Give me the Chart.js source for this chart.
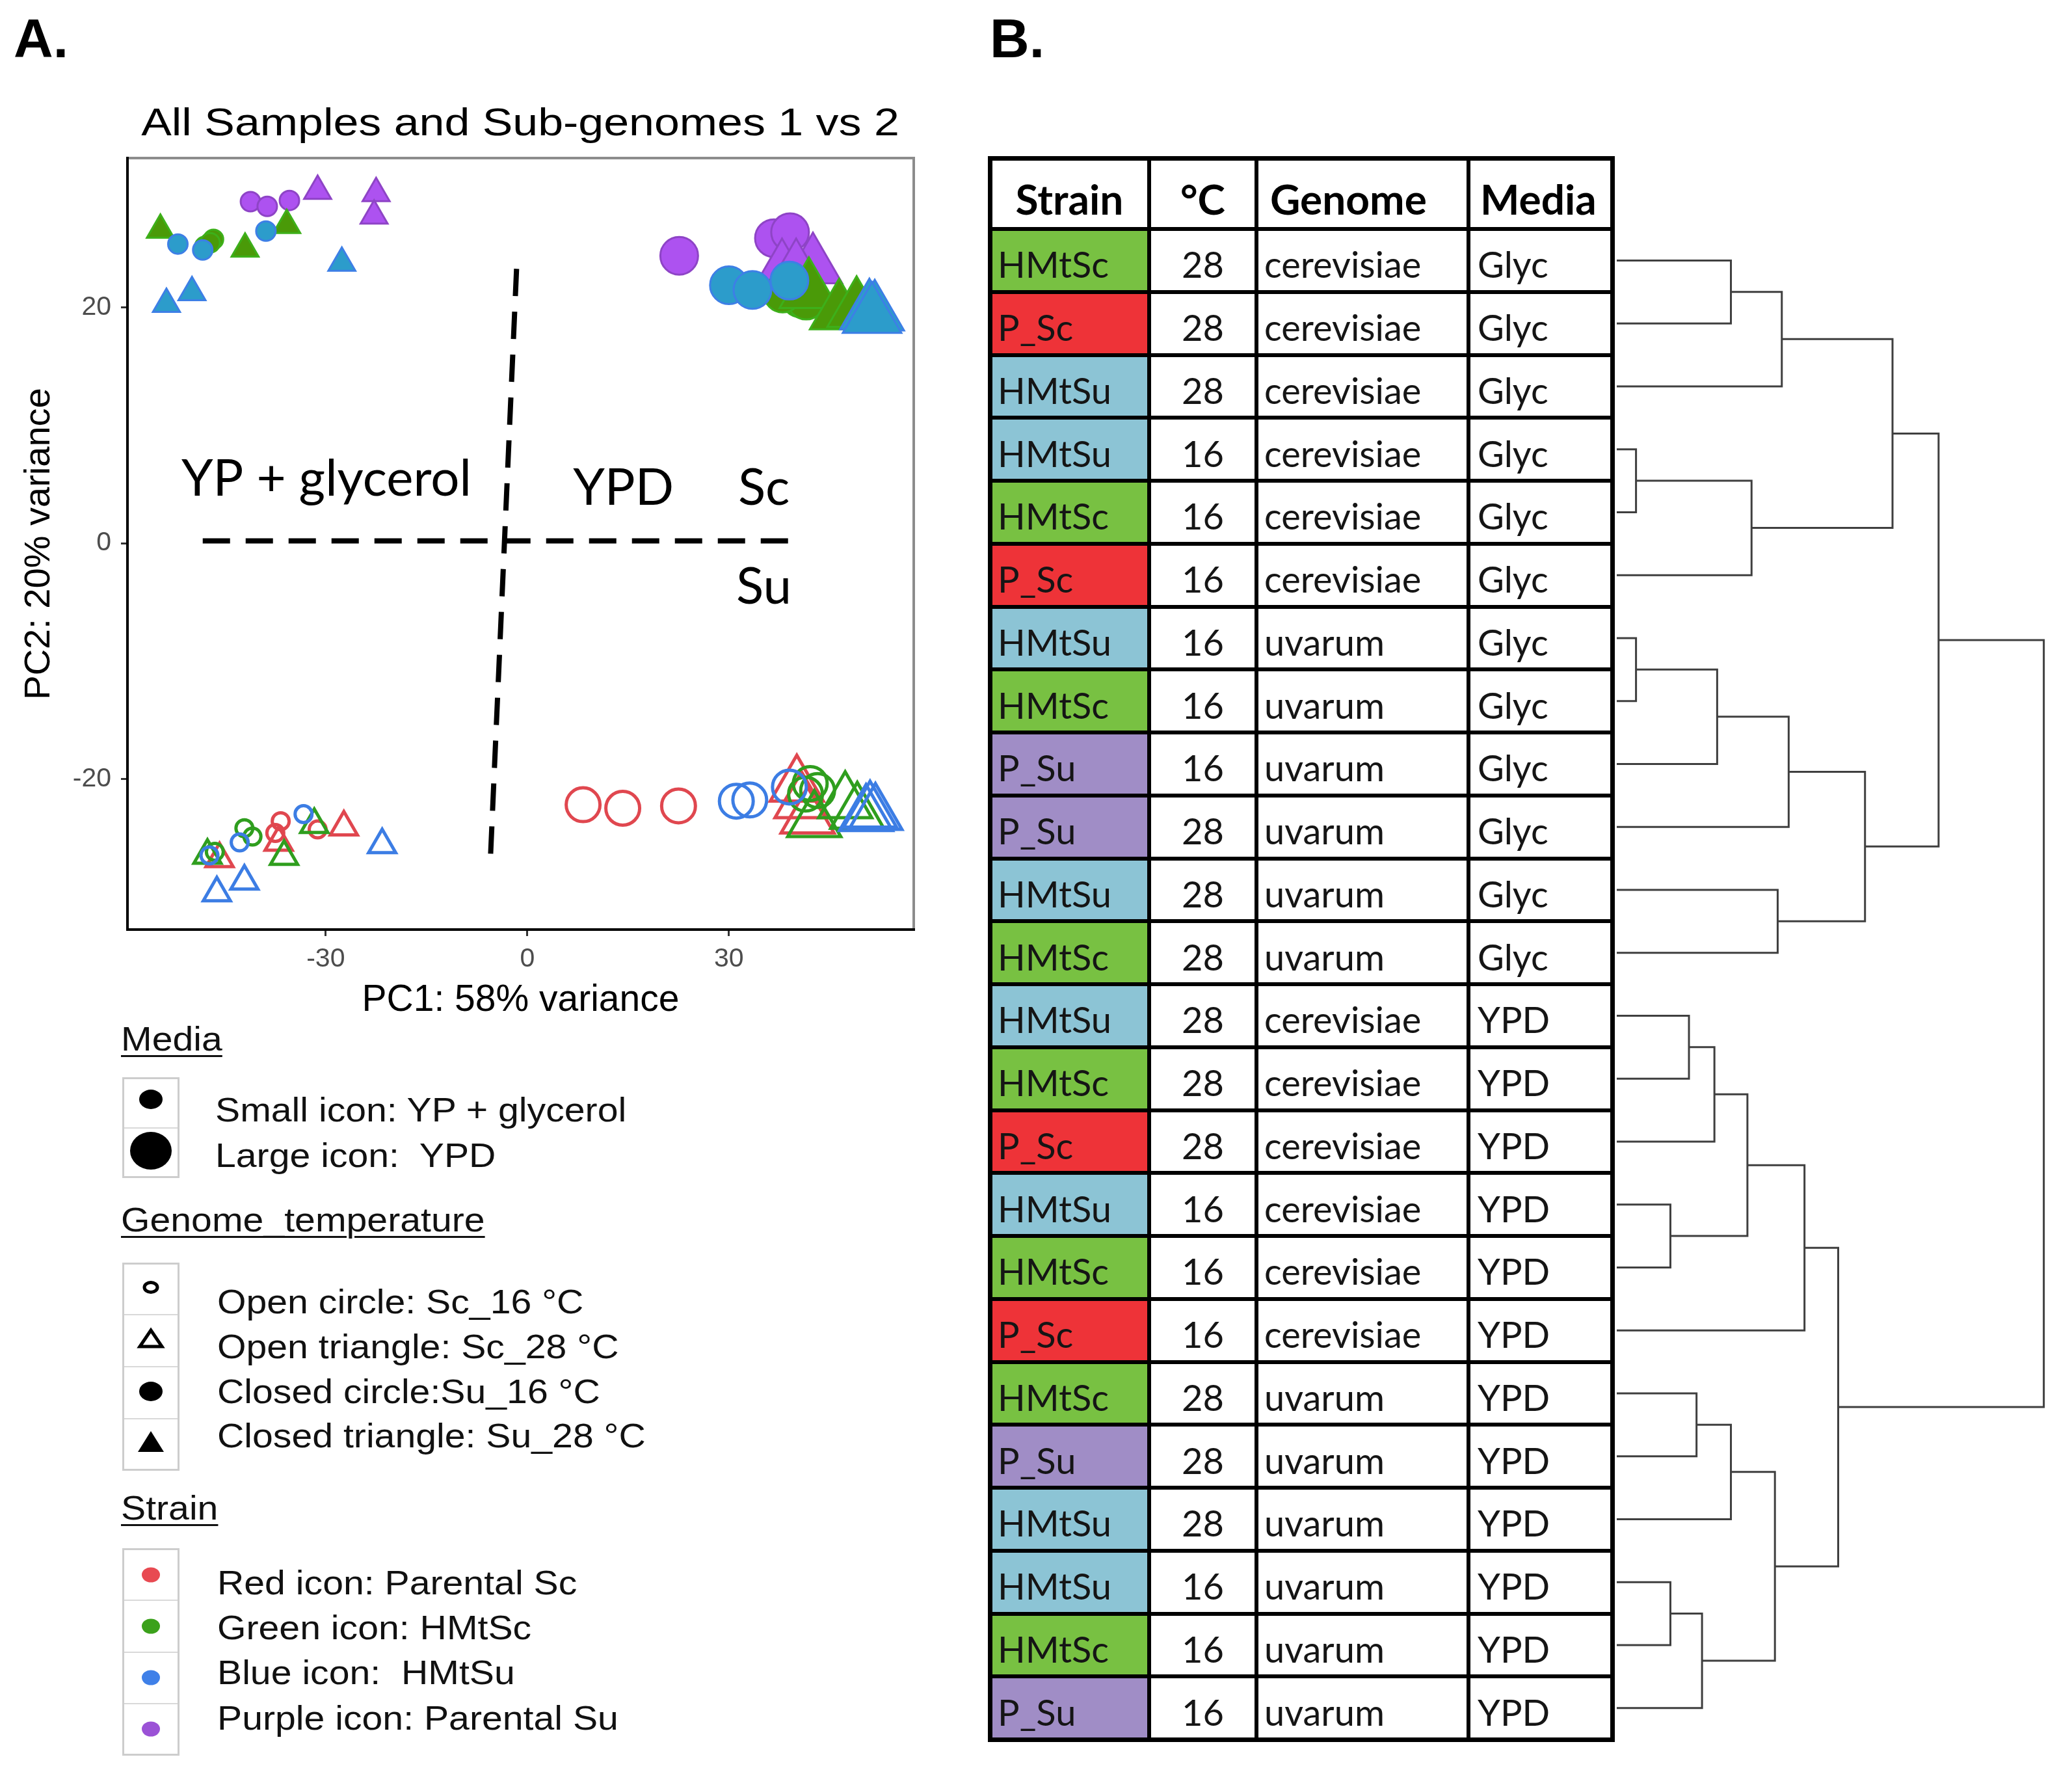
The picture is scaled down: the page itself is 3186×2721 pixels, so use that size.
<!DOCTYPE html>
<html lang="en">
<head>
<meta charset="utf-8">
<title>All Samples and Sub-genomes 1 vs 2</title>
<script src="https://cdn.jsdelivr.net/npm/chart.js@4.4.1/dist/chart.umd.min.js"></script>
<style>
 html,body{margin:0;padding:0;background:#fff;}
 body{position:relative;width:3186px;height:2721px;overflow:hidden;font-family:'Liberation Sans',Arial,Helvetica,sans-serif;color:#000;}
 canvas{position:absolute;display:block;}
 .t{position:absolute;white-space:pre;line-height:1;}
 .panel{font-weight:bold;font-size:84px;}
 .ptitle{font-size:60px;transform:translate(-50%,-50%) scaleX(1.165);transform-origin:50% 50%;}
 .lh{font-size:52px;transform:translateY(-50%) scaleX(1.1);transform-origin:0 50%;text-decoration:underline;text-decoration-thickness:3px;text-underline-offset:7px;color:#111;}
 .li{font-size:52px;transform:translateY(-50%) scaleX(1.1);transform-origin:0 50%;color:#111;}
 .box{position:absolute;border:3px solid #cdcdcd;box-sizing:border-box;}
 .sep{position:absolute;height:2px;background:#d9d9d9;}
 .cell{position:absolute;display:flex;align-items:center;box-sizing:border-box;font-family:Lato,'Open Sans',sans-serif;font-size:56px;color:#151515;white-space:pre;line-height:1;}
 .hcell{font-weight:bold;font-size:64px;color:#000;}
 .ln{position:absolute;background:#000;}
</style>
</head>
<body>
<canvas id="pca" width="1440" height="1583" style="left:0;top:0;width:1440px;height:1583px;"></canvas>
<canvas id="dendro" width="700" height="2322" style="left:2486px;top:352px;width:700px;height:2322px;"></canvas>
<svg id="legicons" width="1440" height="2721" style="position:absolute;left:0;top:0;pointer-events:none;"></svg>
<script>
// ===================== DATA =====================
// 24 samples (rows of table B, also the 24 series of panel A)
const sampleStrain = ['HMtSc','P_Sc','HMtSu','HMtSu','HMtSc','P_Sc','HMtSu','HMtSc','P_Su','P_Su','HMtSu','HMtSc',
                      'HMtSu','HMtSc','P_Sc','HMtSu','HMtSc','P_Sc','HMtSc','P_Su','HMtSu','HMtSu','HMtSc','P_Su'];
const sampleTemp   = [28,28,28,16,16,16,16,16,16,28,28,28, 28,28,28,16,16,16,28,28,28,16,16,16];
const sampleGenome = ['cerevisiae','cerevisiae','cerevisiae','cerevisiae','cerevisiae','cerevisiae',
                      'uvarum','uvarum','uvarum','uvarum','uvarum','uvarum',
                      'cerevisiae','cerevisiae','cerevisiae','cerevisiae','cerevisiae','cerevisiae',
                      'uvarum','uvarum','uvarum','uvarum','uvarum','uvarum'];
const sampleMedia  = ['Glyc','Glyc','Glyc','Glyc','Glyc','Glyc','Glyc','Glyc','Glyc','Glyc','Glyc','Glyc',
                      'YPD','YPD','YPD','YPD','YPD','YPD','YPD','YPD','YPD','YPD','YPD','YPD'];
// PCA scores, three replicates per sample
const pc1 = [[-47.6,-36.2,-31.7],[-45.8,-37.0,-27.3],[-46.2,-42.1,-21.6],[-47.3,-42.8,-33.3],[-42.1,-40.9,-46.5],[-36.7,-31.2,-37.5],
             [-52.0,-48.3,-38.9],[-46.7,-48.0,-47.2],[-41.2,-38.7,-35.4],[-31.2,-22.5,-22.8],[-27.6,-53.7,-49.9],[-54.6,-42.0,-35.8],
             [51.8,51.0,50.4],[42.7,47.3,49.1],[40.1,41.7,40.8],[31.1,33.1,39.0],[42.1,43.2,41.4],[8.3,14.2,22.5],
             [41.9,46.4,49.0],[37.9,42.5,40.0],[51.7,50.9,51.3],[30.0,33.5,39.0],[40.6,41.5,38.0],[22.6,36.7,39.1]];
const pc2 = [[-26.5,-26.6,-23.9],[-26.8,-25.4,-24.1],[-29.7,-28.7,-25.6],[-26.5,-25.4,-23.0],[-24.2,-24.9,-26.2],[-23.6,-24.3,-24.6],
             [25.4,24.9,26.5],[25.8,25.2,25.5],[29.0,28.6,29.1],[29.9,29.7,27.8],[23.8,20.3,21.3],[26.6,25.0,27.0],
             [-23.0,-22.8,-23.1],[-23.6,-22.0,-22.9],[-20.6,-23.3,-22.0],[-21.9,-21.8,-20.7],[-20.4,-21.0,-21.3],[-22.2,-22.5,-22.3],
             [21.4,19.6,19.8],[23.0,23.5,23.0],[19.5,19.6,19.3],[21.9,21.5,22.3],[20.8,20.6,21.2],[24.4,25.9,26.4]];
const xTickValues = [-30, 0, 30];
const xTickLabels = ['-30', '0', '30'];
const yTickValues = [-20, 0, 20];
const yTickLabels = ['-20', '0', '20'];
const xAxisTitle = 'PC1: 58% variance';
const yAxisTitle = 'PC2: 20% variance';
const plotTitle = 'All Samples and Sub-genomes 1 vs 2';
// hierarchical clustering (hclust style: negative = leaf row, positive = earlier merge)
const mergeLeft   = [-4,-7,-16,-22,-13,-19, 4, 5, 2,-1, 6, 8, 1,11,-11,10, 9,12,18,17,16,21,22];
const mergeRight  = [-5,-8,-17,-23,-14,-20,-24,-15,-9,-2,-21, 3,-6, 7,-12,-3,-10,-18,14,15,13,20,19];
const mergeHeight = [28,28,78,78,105,116,124,142,146,166,166,190,196,230,234,240,250,273,322,361,401,468,621];
// table headers and legend texts
const tableHeaders = ['Strain', '°C', 'Genome', 'Media'];
const legendTitles = ['Media', 'Genome_temperature', 'Strain'];
const mediaLegend  = ['Small icon: YP + glycerol', 'Large icon:  YPD'];
const genomeLegend = ['Open circle: Sc_16 °C', 'Open triangle: Sc_28 °C', 'Closed circle:Su_16 °C', 'Closed triangle: Su_28 °C'];
const strainLegend = ['Red icon: Parental Sc', 'Green icon: HMtSc', 'Blue icon:  HMtSu', 'Purple icon: Parental Su'];
const regionLabels = ['YP + glycerol', 'YPD', 'Sc', 'Su'];

// ===================== STYLE / LAYOUT =====================
const strainStyle = {
  P_Sc:  {line:'#E0474F', fill:'#E0474F', edge:'#D8404A', cell:'#EE3338', rank:5},
  HMtSc: {line:'#2F9E1E', fill:'#4A9A08', edge:'#3DB01A', cell:'#78C142', rank:1},
  HMtSu: {line:'#3C7DE4', fill:'#2C9CCB', edge:'#3D7FE6', cell:'#8CC4D5', rank:0},
  P_Su:  {line:'#9B4FD6', fill:'#AD52F0', edge:'#8E44C6', cell:'#A08DC6', rank:6}
};
const regionLabelPos = [{x:-29.9,y:5.6},{x:14.3,y:4.8},{x:35.2,y:4.8},{x:35.2,y:-3.6}];
const dividerLines = [
  [{x:-1.6,y:23.3},{x:-5.5,y:-26.9}],
  [{x:-48.3,y:0.2},{x:39.5,y:0.2}]
];

Chart.defaults.font.family = "'Liberation Sans', Arial, sans-serif";

// ---------- panel A scatter ----------
const pointSets = sampleStrain.map((s, i) => {
  const st = strainStyle[s];
  const open = sampleGenome[i] === 'cerevisiae';
  const tri = sampleTemp[i] === 28;
  const big = sampleMedia[i] === 'YPD';
  const r = tri ? (big ? (open ? 47 : 52) : 24) : (big ? (open ? 26 : 29) : (open ? 13 : 15));
  const rank = (tri ? 0 : 2) + st.rank * 4;
  return {
    label: s + ' ' + sampleTemp[i] + ' ' + sampleGenome[i] + ' ' + sampleMedia[i],
    data: pc1[i].map((x, k) => ({x: x, y: pc2[i][k]})),
    pointStyle: tri ? 'triangle' : 'circle',
    pointRadius: r,
    pointHoverRadius: r,
    pointBackgroundColor: open ? 'rgba(0,0,0,0)' : st.fill,
    pointBorderColor: open ? st.line : st.edge,
    pointBorderWidth: open ? 5 : 3,
    showLine: false,
    order: rank + 1
  };
});
const lineSets = dividerLines.map(pts => ({
  data: pts, showLine: true, borderColor: '#000', borderWidth: 8, borderDash: [42, 24],
  pointRadius: 0, order: 0, fill: false
}));

const framePlugin = {
  id: 'frame',
  afterDraw(chart) {
    const {ctx, chartArea: a} = chart;
    ctx.save();
    ctx.lineWidth = 4;
    ctx.strokeStyle = '#8C8C8C';
    ctx.beginPath(); ctx.moveTo(a.left, a.top); ctx.lineTo(a.right, a.top); ctx.lineTo(a.right, a.bottom); ctx.stroke();
    ctx.strokeStyle = '#000';
    ctx.beginPath(); ctx.moveTo(a.left, a.top - 2); ctx.lineTo(a.left, a.bottom); ctx.lineTo(a.right + 2, a.bottom); ctx.stroke();
    ctx.restore();
  }
};
const regionTextPlugin = {
  id: 'regionText',
  afterDatasetsDraw(chart) {
    const {ctx, scales} = chart;
    ctx.save();
    ctx.font = "78px Lato, 'Open Sans', sans-serif";
    ctx.fillStyle = '#000';
    ctx.textAlign = 'center';
    ctx.textBaseline = 'alphabetic';
    regionLabels.forEach((t, i) => {
      const p = regionLabelPos[i];
      ctx.fillText(t, scales.x.getPixelForValue(p.x), scales.y.getPixelForValue(p.y) + 28);
    });
    ctx.restore();
  }
};

new Chart(document.getElementById('pca'), {
  type: 'scatter',
  data: {datasets: pointSets.concat(lineSets)},
  options: {
    responsive: false, animation: false, events: [],
    layout: {autoPadding: false, padding: {top: 243, right: 35, left: 0, bottom: 0}},
    plugins: {legend: {display: false}, tooltip: {enabled: false}, title: {display: false}},
    scales: {
      x: {
        type: 'linear', min: -59.5, max: 57.5,
        afterFit: s => { s.height = 154; },
        afterBuildTicks: s => { s.ticks = xTickValues.map(v => ({value: v})); },
        ticks: {callback: v => xTickLabels[xTickValues.indexOf(v)], font: {size: 41}, color: '#4D4D4D', padding: 11, maxRotation: 0, autoSkip: false},
        grid: {display: true, drawOnChartArea: false, drawTicks: true, tickLength: 10, color: '#333', lineWidth: 3},
        border: {display: false},
        title: {display: true, text: xAxisTitle, font: {size: 57}, color: '#000', padding: {top: 0, bottom: 11}}
      },
      y: {
        type: 'linear', min: -32.8, max: 32.7,
        afterFit: s => { s.width = 196; },
        afterBuildTicks: s => { s.ticks = yTickValues.map(v => ({value: v})); },
        ticks: {callback: v => yTickLabels[yTickValues.indexOf(v)], font: {size: 41}, color: '#4D4D4D', padding: 15, autoSkip: false},
        grid: {display: true, drawOnChartArea: false, drawTicks: true, tickLength: 10, color: '#333', lineWidth: 3},
        border: {display: false},
        title: {display: true, text: yAxisTitle, font: {size: 56}, color: '#000', padding: {top: 27, bottom: 0}}
      }
    }
  },
  plugins: [framePlugin, regionTextPlugin]
});

// ---------- panel B dendrogram ----------
const nodeY = [], nodeH = [];
function childPos(c) {
  if (c < 0) return {h: 0, y: -c - 0.5};
  return {h: nodeH[c - 1], y: nodeY[c - 1]};
}
const dendroSets = mergeHeight.map((H, k) => {
  const L = childPos(mergeLeft[k]);
  const R = childPos(mergeRight[k]);
  nodeH[k] = H;
  nodeY[k] = (L.y + R.y) / 2;
  return {
    data: [{x: L.h, y: L.y}, {x: H, y: L.y}, {x: H, y: R.y}, {x: R.h, y: R.y}],
    showLine: true, borderColor: '#3f3f3f', borderWidth: 3, pointRadius: 0,
    borderJoinStyle: 'miter', borderCapStyle: 'butt', tension: 0, clip: 6, fill: false
  };
});
new Chart(document.getElementById('dendro'), {
  type: 'scatter',
  data: {datasets: dendroSets},
  options: {
    responsive: false, animation: false, events: [],
    layout: {autoPadding: false, padding: 0},
    plugins: {legend: {display: false}, tooltip: {enabled: false}},
    scales: {
      x: {type: 'linear', min: 0, max: 662, display: false},
      y: {type: 'linear', min: 0, max: 24, reverse: true, display: false}
    }
  }
});

// ---------- HTML text: panel labels, title ----------
function addText(cls, txt, left, top, extra) {
  const d = document.createElement('div');
  d.className = 't ' + cls;
  d.textContent = txt;
  d.style.left = left + 'px';
  d.style.top = top + 'px';
  if (extra) Object.assign(d.style, extra);
  document.body.appendChild(d);
  return d;
}
addText('panel', 'A.', 21, 17);
addText('panel', 'B.', 1522, 17);
addText('ptitle', plotTitle, 800, 188);

// ---------- legend ----------
const legX = 186, legTextX = [331, 334, 334];
const legTitleY = [1597, 1875, 2318];
legendTitles.forEach((t, i) => addText('lh', t, legX, legTitleY[i]));
const legendGroups = [
  {items: mediaLegend,  textY: [1706, 1776], box: [1656, 1811], iconY: [1690, 1769]},
  {items: genomeLegend, textY: [2001, 2070, 2139, 2207], box: [1941, 2261], iconY: [1979, 2058, 2139, 2216]},
  {items: strainLegend, textY: [2433, 2502, 2571, 2641], box: [2380, 2699], iconY: [2421, 2500, 2579, 2658]}
];
legendGroups.forEach((g, gi) => {
  const b = document.createElement('div');
  b.className = 'box';
  Object.assign(b.style, {left: '188px', top: g.box[0] + 'px', width: '88px', height: (g.box[1] - g.box[0]) + 'px'});
  document.body.appendChild(b);
  const n = g.items.length, step = (g.box[1] - g.box[0]) / n;
  for (let k = 1; k < n; k++) {
    const s = document.createElement('div');
    s.className = 'sep';
    Object.assign(s.style, {left: '191px', top: Math.round(g.box[0] + step * k - 1) + 'px', width: '82px'});
    document.body.appendChild(s);
  }
  g.items.forEach((t, k) => addText('li', t, legTextX[gi], g.textY[k]));
});
const svg = document.getElementById('legicons');
const NS = 'http://www.w3.org/2000/svg';
function el(tag, attrs) { const e = document.createElementNS(NS, tag); for (const k in attrs) e.setAttribute(k, attrs[k]); svg.appendChild(e); return e; }
const cx = 232;
const gy = legendGroups[1].iconY;
el('ellipse', {cx: cx, cy: legendGroups[0].iconY[0], rx: 18, ry: 15, fill: '#000'});
el('ellipse', {cx: cx, cy: legendGroups[0].iconY[1], rx: 32, ry: 29, fill: '#000'});
el('ellipse', {cx: cx, cy: gy[0], rx: 10, ry: 7.5, fill: 'none', stroke: '#000', 'stroke-width': 5});
el('polygon', {points: `${cx},${gy[1]-13} ${cx+17},${gy[1]+12} ${cx-17},${gy[1]+12}`, fill: 'none', stroke: '#000', 'stroke-width': 5, 'stroke-linejoin': 'miter'});
el('ellipse', {cx: cx, cy: gy[2], rx: 18, ry: 15, fill: '#000'});
el('polygon', {points: `${cx},${gy[3]-16} ${cx+20},${gy[3]+16} ${cx-20},${gy[3]+16}`, fill: '#000'});
['P_Sc', 'HMtSc', 'HMtSu', 'P_Su'].forEach((s, k) => {
  const c = {P_Sc: '#E84A52', HMtSc: '#3BA11B', HMtSu: '#3F80E8', P_Su: '#9B52D6'}[s];
  el('ellipse', {cx: cx, cy: legendGroups[2].iconY[k], rx: 14, ry: 11.5, fill: c});
});

// ---------- panel B table ----------
const colX = [1522, 1767, 1932, 2258, 2479];
const headTop = 243, headBottom = 352, rowH = (2674 - 352) / 24;
const tableBottom = headBottom + rowH * 24;
function addCell(text, c, top, h, opts) {
  const d = document.createElement('div');
  d.className = 'cell' + (opts.head ? ' hcell' : '');
  d.textContent = text;
  Object.assign(d.style, {
    left: (colX[c] + 3) + 'px', top: (top + 3) + 'px',
    width: (colX[c + 1] - colX[c] - 6) + 'px', height: (h - 6) + 'px',
    justifyContent: opts.align || 'flex-start',
    paddingLeft: (opts.pad || 0) + 'px', paddingTop: (opts.pt || 0) + 'px',
    background: opts.bg || 'transparent'
  });
  document.body.appendChild(d);
}
const headAlign = [['center', 0], ['center', 0], ['flex-start', 18], ['flex-start', 15]];
tableHeaders.forEach((t, c) => addCell(t, c, headTop, headBottom - headTop, {head: true, align: headAlign[c][0], pad: headAlign[c][1], pt: 16}));
sampleStrain.forEach((s, i) => {
  const top = headBottom + rowH * i;
  addCell(s, 0, top, rowH, {pad: 9, pt: 12, bg: strainStyle[s].cell});
  addCell(String(sampleTemp[i]), 1, top, rowH, {align: 'center', pt: 12});
  addCell(sampleGenome[i], 2, top, rowH, {pad: 9, pt: 12});
  addCell(sampleMedia[i], 3, top, rowH, {pad: 11, pt: 12});
});
function addLine(l, t, w, h) {
  const d = document.createElement('div');
  d.className = 'ln';
  Object.assign(d.style, {left: l + 'px', top: t + 'px', width: w + 'px', height: h + 'px'});
  document.body.appendChild(d);
}
colX.forEach((x, k) => {
  const w = (k === 0 || k === colX.length - 1) ? 7 : 6;
  addLine(x - w / 2, headTop - 3, w, tableBottom - headTop + 6);
});
addLine(colX[0] - 3, headTop - 3.5, colX[4] - colX[0] + 7, 7);
addLine(colX[0] - 3, headBottom - 3, colX[4] - colX[0] + 7, 6);
for (let i = 1; i <= 24; i++) {
  const y = headBottom + rowH * i;
  const w = i === 24 ? 7 : 6;
  addLine(colX[0] - 3, y - w / 2, colX[4] - colX[0] + 7, w);
}
</script>
</body>
</html>
